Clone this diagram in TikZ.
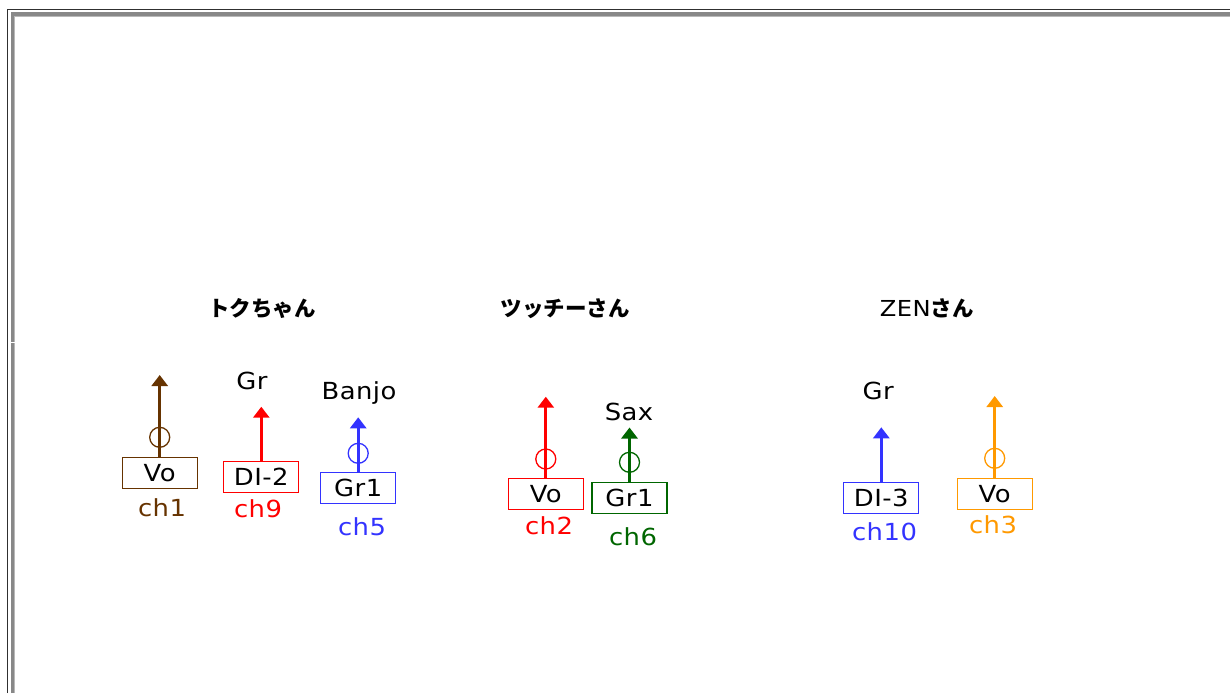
\documentclass[tikz,border=0pt]{standalone}
\usepackage{fontspec}
\setmainfont{DejaVu Sans}[FakeStretch=1.1, LetterSpace=2]
\newfontfamily\cjk{Noto Sans CJK JP}
\usetikzlibrary{arrows.meta}
\definecolor{cbrown}{HTML}{663300}
\definecolor{cred}{HTML}{FF0000}
\definecolor{cblue}{HTML}{3333FF}
\definecolor{cgreen}{HTML}{006600}
\definecolor{corange}{HTML}{FF9900}
\definecolor{frameblack}{HTML}{303030}
\definecolor{framegray}{HTML}{888888}
\definecolor{framelight}{HTML}{B8B8B8}
\tikzset{
  txt/.style={font=\fontsize{23.5}{28}\selectfont},
  chbox/.style={draw=#1, line width=1.3pt, minimum width=75pt, minimum height=31pt,
    inner sep=0pt, text height=17pt, text depth=0pt, txt, text=black},
  ring/.style={circle, draw=#1, line width=1.3pt, minimum size=20pt, inner sep=0pt},
  sig/.style={draw=#1, fill=#1, line width=2.8pt, -{Triangle[width=16pt,length=11pt]}},
  lab/.style={anchor=base, txt, inner sep=0pt},
  ttl/.style={anchor=base, font=\cjk\bfseries\fontsize{21.5}{25}\selectfont, inner sep=0pt}
}
\begin{document}
\begin{tikzpicture}[x=1pt,y=-1pt]
\useasboundingbox (0,0) rectangle (1230,693);
\fill[white] (0,0) rectangle (1230,693);
% frame
\draw[frameblack, line width=1.4pt] (7.5,693) -- (7.5,9.7) -- (1230,9.7);
\draw[framegray, line width=3.4pt] (12.4,693) -- (12.4,14.1) -- (1230,14.1);
\draw[framelight, line width=1pt] (14.6,693) -- (14.6,16.3) -- (1230,16.3);
\fill[white] (10.5,342.3) rectangle (15,343.2);

% titles
\node[ttl] (t1) at (262,316) {トクちゃん};
\node[ttl] (t2) at (565,316) {ツッチーさん};
\node[anchor=base, inner sep=0pt] (t3) at (926.7,316) {{\fontsize{22}{26}\selectfont ZEN}{\cjk\bfseries\fontsize{21.5}{25}\selectfont さん}};

% Toku: Vo ch1
\node[chbox=cbrown] (b1) at (159.7,473) {Vo};
\node[ring=cbrown] (r1) at (159.7,437.3) {};
\coordinate (a1) at (159.7,375);
\draw[sig=cbrown] (b1.north) -- (a1);
\node[lab, text=cbrown] (c1) at (162,516) {ch1};

% Toku: DI-2 ch9
\node[chbox=cred] (b2) at (261.3,477.2) {DI-2};
\coordinate (a2) at (261.3,406.7);
\draw[sig=cred] (b2.north) -- (a2);
\node[lab] (g2) at (252,389) {Gr};
\node[lab, text=cred] (c2) at (258,517) {ch9};

% Toku: Gr1 ch5
\node[chbox=cblue] (b3) at (358.2,488.3) {Gr1};
\node[ring=cblue] (r3) at (358.2,453.3) {};
\coordinate (a3) at (358.2,417.3);
\draw[sig=cblue] (b3.north) -- (a3);
\node[lab] (g3) at (359,399) {Banjo};
\node[lab, text=cblue] (c3) at (362,535) {ch5};

% Tsucchi: Vo ch2
\node[chbox=cred] (b4) at (545.8,494.2) {Vo};
\node[ring=cred] (r4) at (545.8,459) {};
\coordinate (a4) at (545.8,396.7);
\draw[sig=cred] (b4.north) -- (a4);
\node[lab, text=cred] (c4) at (549,534) {ch2};

% Tsucchi: Gr1 ch6
\node[chbox=cgreen] (b5) at (629.5,498.3) {Gr1};
\node[ring=cgreen] (r5) at (629.5,462.3) {};
\coordinate (a5) at (629.5,427.5);
\draw[sig=cgreen] (b5.north) -- (a5);
\node[lab] (g5) at (629,420) {Sax};
\node[lab, text=cgreen] (c5) at (633,545) {ch6};

% ZEN: DI-3 ch10
\node[chbox=cblue] (b6) at (881.3,497.8) {DI-3};
\coordinate (a6) at (881.3,427.3);
\draw[sig=cblue] (b6.north) -- (a6);
\node[lab] (g6) at (878.3,399) {Gr};
\node[lab, text=cblue] (c6) at (884.5,540) {ch10};

% ZEN: Vo ch3
\node[chbox=corange] (b7) at (994.7,494.2) {Vo};
\node[ring=corange] (r7) at (994.7,458.3) {};
\coordinate (a7) at (994.7,396);
\draw[sig=corange] (b7.north) -- (a7);
\node[lab, text=corange] (c7) at (993,533.3) {ch3};
\end{tikzpicture}
\end{document}
